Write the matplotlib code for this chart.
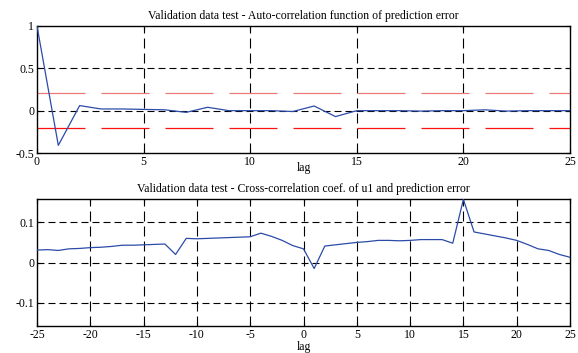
import matplotlib
matplotlib.use("Agg")
import matplotlib.pyplot as plt
import numpy as np

# auto-correlation of prediction error, lags 0..25
lags_auto = np.arange(0, 26)
auto_corr = [1.0, -0.41, 0.06, 0.02, 0.02, 0.015, 0.01, -0.02, 0.04, 0.0,
             0.0, 0.0, -0.01, 0.055, -0.07, 0.0, 0.0, 0.0, -0.005, 0.0,
             0.0, 0.01, -0.005, 0.0, 0.0, 0.0]
conf_auto = 0.207

# cross-correlation of u1 and prediction error, lags -25..25
lags_cross = np.arange(-25, 26)
cross_corr = [0.031, 0.032, 0.030, 0.034, 0.035, 0.037, 0.038, 0.040, 0.043, 0.043,
              0.044, 0.045, 0.046, 0.020, 0.060, 0.059, 0.060, 0.061, 0.062, 0.063,
              0.064, 0.073, 0.065, 0.055, 0.042, 0.034, -0.015, 0.041, 0.044, 0.047,
              0.050, 0.052, 0.055, 0.055, 0.054, 0.055, 0.057, 0.057, 0.057, 0.048,
              0.157, 0.076, 0.071, 0.066, 0.061, 0.055, 0.045, 0.034, 0.030, 0.020,
              0.013]

plt.rcParams['font.family'] = ['Liberation Serif', 'DejaVu Serif']
plt.rcParams['font.size'] = 8.5
plt.rcParams['axes.unicode_minus'] = False
plt.rcParams['lines.scale_dashes'] = False

blue = '#2b4ba8'
px = 0.72  # one pixel in points at dpi 100

fig = plt.figure(figsize=(5.78, 3.53), dpi=100)
ax1 = fig.add_axes([37/578, 1-153/353, 533/578, 127/353])
ax2 = fig.add_axes([37/578, 1-326/353, 533/578, 127/353])


def style(ax, xgrid, ygrid):
    ax.tick_params(direction='in', top=True, right=True, length=3, width=0.8, pad=2)
    for s in ax.spines.values():
        s.set_linewidth(1.0)
    for x in xgrid:
        ax.axvline(x, color='black', lw=0.8, ls=(0, (10*px, 5*px)), zorder=1)
    for y in ygrid:
        ax.axhline(y, color='black', lw=0.8, ls=(0, (7*px, 4*px)), zorder=1)


# top: auto-correlation
ax1.plot(lags_auto, auto_corr, color=blue, lw=0.9, zorder=3)
ax1.axhline(conf_auto, color='#f07878', lw=0.9, ls=(0, (48*px, 16*px)), zorder=2)
ax1.axhline(-conf_auto, color='#ff1010', lw=0.9, ls=(0, (48*px, 16*px)), zorder=2)
ax1.set_xlim(0, 25)
ax1.set_ylim(-0.5, 1)
ax1.set_xticks([0, 5, 10, 15, 20, 25])
ax1.set_yticks([-0.5, 0, 0.5, 1])
ax1.set_yticklabels(['-0.5', '0', '0.5', '1'])
style(ax1, [5, 10, 15, 20], [0, 0.5])
ax1.set_title('Validation data test - Auto-correlation function of prediction error',
              fontsize=8.5, pad=5)
ax1.set_xlabel('lag', labelpad=-4)

# bottom: cross-correlation
ax2.plot(lags_cross, cross_corr, color=blue, lw=0.9, zorder=3)
ax2.set_xlim(-25, 25)
ax2.set_ylim(-0.158, 0.158)
ax2.set_xticks([-25, -20, -15, -10, -5, 0, 5, 10, 15, 20, 25])
ax2.set_yticks([-0.1, 0, 0.1])
ax2.set_yticklabels(['-0.1', '0', '0.1'])
style(ax2, [-20, -15, -10, -5, 0, 5, 10, 15, 20], [-0.1, 0, 0.1])
ax2.set_title('Validation data test - Cross-correlation coef. of u1 and prediction error',
              fontsize=8.5, pad=5)
ax2.set_xlabel('lag', labelpad=0)

fig.savefig('out.png', dpi=100)
